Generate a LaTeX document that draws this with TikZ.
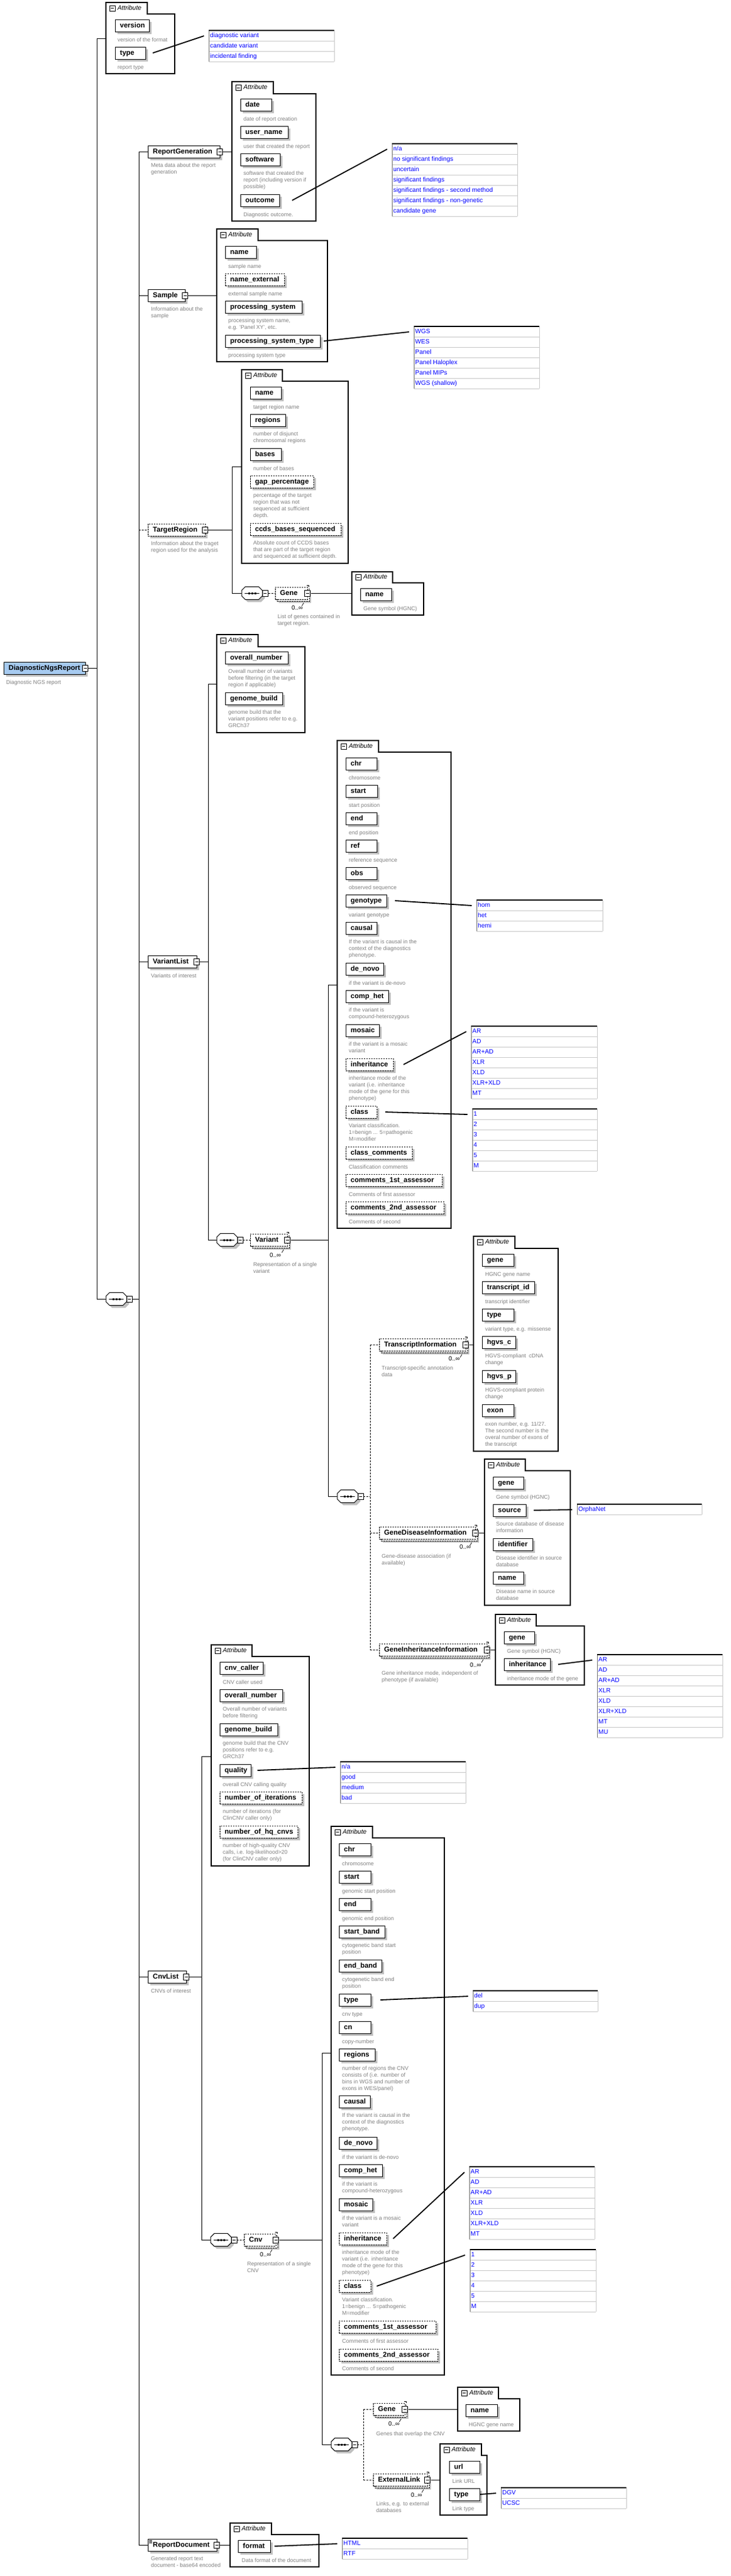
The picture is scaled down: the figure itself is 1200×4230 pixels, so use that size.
\documentclass[tikz,border=0pt]{standalone}
\usepackage{fontspec}
\setmainfont{Liberation Sans}
\definecolor{shadowgray}{RGB}{192,192,192}
\definecolor{descgray}{RGB}{128,128,128}
\definecolor{enumblue}{RGB}{0,0,255}
\definecolor{sepgray}{RGB}{200,200,200}
\definecolor{leftgray}{RGB}{110,110,110}
\definecolor{rootblue}{RGB}{166,202,240}
\pgfdeclarelayer{bg}
\pgfsetlayers{bg,main}
\tikzset{
 con/.style={line width=1pt, black},
 dcon/.style={line width=1pt, black, dash pattern=on 3pt off 2pt},
 elbox/.style={draw=black, line width=1pt, fill=white, minimum height=20pt, inner sep=0pt, outer sep=0pt},
 optel/.style={dash pattern=on 2.5pt off 1.5pt},
 eltxt/.style={font=\fontsize{11.5}{13}\selectfont\bfseries, inner sep=0pt, text height=8.5pt, text depth=2.5pt},
 shd/.style={fill=shadowgray},
 grp/.style={draw=black, line width=1.2pt},
 grptxt/.style={font=\fontsize{10.5}{12}\selectfont\itshape, inner sep=0pt, text height=7.5pt, text depth=2pt},
 icn/.style={draw=black, line width=0.8pt, fill=white},
 dsc/.style={font=\fontsize{9}{11}\selectfont, text=descgray, align=left, inner sep=0pt, execute at begin node=\strut},
 enm/.style={font=\fontsize{10.3}{12}\selectfont, text=enumblue, inner sep=0pt, text height=7.5pt, text depth=2pt},
 mult/.style={font=\fontsize{10}{12}\selectfont, inner sep=0pt},
 econ/.style={line width=1.8pt, black},
 sepc/.style={draw=sepgray, line width=1pt},
 leftc/.style={draw=leftgray, line width=1pt}
}
\newcommand{\IcnAt}[1]{\draw[icn] ([shift={(-4.5,-5)}]#1) rectangle ([shift={(4.5,5)}]#1); \draw[line width=0.8pt] ([xshift=-2.5pt]#1) -- ([xshift=2.5pt]#1);}
\newcommand{\El}[6][]{%
 \fill[shd] ({#3+4},{#4+4}) rectangle ({#5+4},{#4+24});
 \node[elbox,#1,minimum width={(#5-#3)*1pt},anchor=north west] (#2) at (#3,#4) {};
 \node[eltxt,anchor=west] at ([xshift=8pt]#2.west) {#6};}
\newcommand{\Mul}[5]{%
 \fill[shd] ({#2+6},{#3+6}) rectangle ({#4+6},{#3+26});
 \draw[fill=white, line width=1pt, dash pattern=on 2.5pt off 1.5pt] ({#2+3},{#3+3}) rectangle ({#4+3},{#3+23});
 \node[elbox,optel,minimum width={(#4-#2)*1pt},anchor=north west] (#1) at (#2,#3) {};
 \node[eltxt,anchor=west] at ([xshift=8pt]#1.west) {#5};
 \draw[line width=0.7pt] ({#4-1},{#3-3}) -- ({#4+2},{#3-3}) -- ({#4+2},{#3});
 \draw[line width=0.7pt] ({#4-6},{#3+26}) -- ({#4-9},{#3+31});
 \IcnAt{#1.east}}
\newcommand{\Seq}[3]{%
 \fill[shd] ({#2+10},{#3-6.5}) -- ({#2+32},{#3-6.5}) -- ({#2+38},{#3-0.5}) -- ({#2+38},{#3+8.5}) -- ({#2+32},{#3+14.5}) -- ({#2+10},{#3+14.5}) -- ({#2+4},{#3+8.5}) -- ({#2+4},{#3-0.5}) -- cycle;
 \node[inner sep=0pt, outer sep=0pt, minimum width=34pt, minimum height=21pt, anchor=west] (#1) at (#2,#3) {};
 \draw[fill=white, line width=1pt] ({#2+6},{#3-10.5}) -- ({#2+28},{#3-10.5}) -- ({#2+34},{#3-4.5}) -- ({#2+34},{#3+4.5}) -- ({#2+28},{#3+10.5}) -- ({#2+6},{#3+10.5}) -- ({#2},{#3+4.5}) -- ({#2},{#3-4.5}) -- cycle;
 \draw[line width=1pt] ({#2+5},{#3}) -- ({#2+29},{#3});
 \foreach \dx in {-5,0,5} \fill ({#2+17+\dx-1.5},{#3-1.5}) rectangle ({#2+17+\dx+1.5},{#3+1.5});
 \draw[icn] ({#2+34},{#3-5}) rectangle ({#2+43},{#3+5}); \draw[line width=0.8pt] ({#2+36},{#3}) -- ({#2+41},{#3});}
\newcommand{\Grp}[8]{%
 \draw[grp] (#2,#3) -- (#4,#3) -- (#4,#5) -- (#6,#5) -- (#6,#7) -- (#2,#7) -- cycle;
 \draw[icn] ({#2+6},{(#3+#5)/2-4.5}) rectangle ({#2+15},{(#3+#5)/2+4.5});
 \draw[line width=0.8pt] ({#2+8},{(#3+#5)/2}) -- ({#2+13},{(#3+#5)/2});
 \node[grptxt, anchor=west] at ({#2+19},{(#3+#5)/2}) {Attribute};
 \coordinate (#1) at (#2,#8);}
\newcommand{\Enm}[6]{%
 \fill[white] (#2,#3) rectangle (#4,{#3+17*#5});
 \foreach \eit [count=\ek] in {#6} {
   \draw[sepc] (#2,{#3+17*\ek}) -- (#4,{#3+17*\ek});
   \node[enm, anchor=west] at ({#2+2},{#3+17*\ek-8.5}) {\eit};}
 \draw[sepc] (#4,#3) -- (#4,{#3+17*#5});
 \draw[leftc] (#2,#3) -- (#2,{#3+17*#5});
 \draw[line width=1.6pt] ({#2-0.5},#3) -- (#4,#3);
 \coordinate (#1) at ({#2-8},{#3+9});}
\newcommand{\Dsc}[3]{\node[dsc, anchor=north west] at (#1,{#2-4.7}) {#3};}
\begin{document}
\begin{tikzpicture}[x=1pt,y=-1pt]
\useasboundingbox (0,0) rectangle (1200,4230);
\coordinate (bA) at (159,0);
\coordinate (bB) at (228,0);
\coordinate (bC) at (381,0);
\coordinate (bD) at (342,0);
\coordinate (bE) at (539,0);
\coordinate (bF) at (608,0);
\coordinate (bG) at (331,0);
\coordinate (bH) at (529,0);
\coordinate (bI) at (597,0);
% ---------- root
\El[fill=rootblue]{root}{6}{1087}{140}{DiagnosticNgsReport}
\IcnAt{root.east}
\Dsc{10}{1120}{Diagnostic NGS report}
% ---------- root attributes
\Grp{G0}{174}{4}{242}{23}{287}{121}{63}
\El{version}{189}{32}{245}{version}
\Dsc{193}{65}{version of the format}
\El{rtype}{189}{77}{239}{type}
\Dsc{193}{110}{report type}
\Enm{E0}{343}{50}{549}{3}{diagnostic variant,candidate variant,incidental finding}
\Seq{S0}{174}{2133}
% ---------- ReportGeneration
\El{RG}{243}{239}{361}{ReportGeneration}
\IcnAt{RG.east}
\Dsc{248}{272}{Meta data about the report\\generation}
\Grp{G1}{381}{134}{449}{154}{519}{363}{249}
\El{rgdate}{395}{162}{446}{date}
\Dsc{400}{195}{date of report creation}
\El{rguser}{395}{207}{473}{user\_name}
\Dsc{400}{240}{user that created the report}
\El{rgsoft}{395}{252}{460}{software}
\Dsc{400}{285}{software that created the\\report (including version if\\possible)}
\El{rgout}{395}{319}{459}{outcome}
\Dsc{400}{352}{Diagnostic outcome.}
\Enm{E1}{644}{236}{850}{7}{n/a,no significant findings,uncertain,significant findings,significant findings - second method,significant findings - non-genetic,candidate gene}
% ---------- Sample
\El{SA}{243}{475}{304}{Sample}
\IcnAt{SA.east}
\Dsc{248}{508}{Information about the\\sample}
\Grp{G2}{356}{376}{424}{395}{538}{594}{485}
\El{saname}{370}{404}{421}{name}
\Dsc{375}{437}{sample name}
\El[optel]{saext}{370}{449}{467}{name\_external}
\Dsc{375}{482}{external sample name}
\El{saps}{370}{494}{496}{processing\_system}
\Dsc{375}{527}{processing system name,\\e.g. 'Panel XY', etc.}
\El{sapst}{370}{550}{526}{processing\_system\_type}
\Dsc{375}{583}{processing system type}
\Enm{E2}{680}{536}{886}{6}{WGS,WES,Panel,Panel Haloplex,Panel MIPs,WGS (shallow)}
% ---------- TargetRegion
\El[optel]{TR}{243}{860}{337}{TargetRegion}
\IcnAt{TR.east}
\Dsc{248}{893}{Information about the traget\\region used for the analysis}
\Grp{G3}{397}{607}{464}{626}{572}{925}{766}
\El{trname}{411}{635}{462}{name}
\Dsc{416}{668}{target region name}
\El{trreg}{411}{680}{469}{regions}
\Dsc{416}{713}{number of disjunct\\chromosomal regions}
\El{trbases}{411}{736}{462}{bases}
\Dsc{416}{769}{number of bases}
\El[optel]{trgap}{411}{781}{515}{gap\_percentage}
\Dsc{416}{814}{percentage of the target\\region that was not\\sequenced at sufficient\\depth.}
\El[optel]{trccds}{411}{859}{560}{ccds\_bases\_sequenced}
\Dsc{416}{892}{Absolute count of CCDS bases\\that are part of the target region\\and sequenced at sufficient depth.}
\Seq{S1}{397}{974}
\Mul{TRgene}{452}{964}{505}{Gene}
\node[mult,anchor=west] (mTRgene) at (479,998) {0..∞};
\Dsc{456}{1013}{List of genes contained in\\target region.}
\Grp{G4}{578}{939}{645}{957}{696}{1010}{974}
\El{trgname}{592}{966}{643}{name}
\Dsc{597}{999}{Gene symbol (HGNC)}
% ---------- VariantList
\El{VL}{243}{1569}{323}{VariantList}
\IcnAt{VL.east}
\Dsc{248}{1602}{Variants of interest}
\Grp{G5}{356}{1042}{424}{1062}{501}{1203}{1123}
\El{vlon}{370}{1070}{473}{overall\_number}
\Dsc{375}{1103}{Overall number of variants\\before filtering (in the target\\region if applicable)}
\El{vlgb}{370}{1137}{464}{genome\_build}
\Dsc{375}{1170}{genome build that the\\variant positions refer to e.g.\\GRCh37}
\Seq{S2}{356}{2036}
\Mul{VAR}{411}{2026}{472}{Variant}
\node[mult,anchor=west] (mVAR) at (443,2061) {0..∞};
\Dsc{416}{2077}{Representation of a single\\variant}
\Grp{G6}{554}{1216}{622}{1235}{741}{2017}{1617}
\El{vchr}{568}{1244}{619}{chr} \Dsc{573}{1277}{chromosome}
\El{vstart}{568}{1289}{620}{start} \Dsc{573}{1322}{start position}
\El{vend}{568}{1334}{619}{end} \Dsc{573}{1367}{end position}
\El{vref}{568}{1379}{619}{ref} \Dsc{573}{1412}{reference sequence}
\El{vobs}{568}{1424}{619}{obs} \Dsc{573}{1457}{observed sequence}
\El{vgt}{568}{1469}{635}{genotype} \Dsc{573}{1502}{variant genotype}
\Enm{E3}{783}{1478}{990}{3}{hom,het,hemi}
\El{vcausal}{568}{1514}{619}{causal} \Dsc{573}{1547}{If the variant is causal in the\\context of the diagnostics\\phenotype.}
\El{vdn}{568}{1581}{630}{de\_novo} \Dsc{573}{1614}{if the variant is de-novo}
\El{vch}{568}{1626}{638}{comp\_het} \Dsc{573}{1659}{if the variant is\\compound-heterozygous}
\El{vmos}{568}{1682}{623}{mosaic} \Dsc{573}{1715}{if the variant is a mosaic\\variant}
\El[optel]{vinh}{568}{1738}{646}{inheritance} \Dsc{573}{1771}{inheritance mode of the\\variant (i.e. inheritance\\mode of the gene for this\\phenotype)}
\Enm{E4}{774}{1685}{981}{7}{AR,AD,AR+AD,XLR,XLD,XLR+XLD,MT}
\El[optel]{vclass}{568}{1816}{619}{class} \Dsc{573}{1849}{Variant classification.\\1=benign ... 5=pathogenic\\M=modifier}
\Enm{E5}{776}{1821}{981}{6}{1,2,3,4,5,M}
\El[optel]{vcc}{568}{1883}{677}{class\_comments} \Dsc{573}{1916}{Classification comments}
\El[optel]{vc1}{568}{1928}{726}{comments\_1st\_assessor} \Dsc{573}{1961}{Comments of first assessor}
\El[optel]{vc2}{568}{1973}{729}{comments\_2nd\_assessor} \Dsc{573}{2006}{Comments of second}
% ---------- Variant children
\Seq{S3}{554}{2457}
\Mul{TI}{623}{2198}{765}{TranscriptInformation}
\node[mult,anchor=west] (mTI) at (737,2231) {0..∞};
\Dsc{627}{2247}{Transcript-specific annotation\\data}
\Grp{G7}{778}{2030}{846}{2050}{917}{2383}{2208}
\El{tigene}{792}{2059}{844}{gene} \Dsc{797}{2092}{HGNC gene name}
\El{titid}{792}{2104}{878}{transcript\_id} \Dsc{797}{2137}{transcript identifier}
\El{titype}{792}{2149}{844}{type} \Dsc{797}{2182}{variant type, e.g. missense}
\El{tihc}{792}{2194}{847}{hgvs\_c} \Dsc{797}{2227}{HGVS-compliant\ \ cDNA\\change}
\El{tihp}{792}{2250}{847}{hgvs\_p} \Dsc{797}{2283}{HGVS-compliant protein\\change}
\El{tiexon}{792}{2306}{844}{exon} \Dsc{797}{2339}{exon number, e.g. 11/27.\\The second number is the\\overal number of exons of\\the transcript}
\Mul{GDI}{623}{2507}{781}{GeneDiseaseInformation}
\node[mult,anchor=west] (mGDI) at (755,2540) {0..∞};
\Dsc{627}{2556}{Gene-disease association (if\\available)}
\Grp{G8}{796}{2396}{863}{2415}{937}{2636}{2517}
\El{gdgene}{810}{2425}{860}{gene} \Dsc{815}{2458}{Gene symbol (HGNC)}
\El{gdsource}{810}{2470}{864}{source} \Dsc{815}{2503}{Source database of disease\\information}
\Enm{E6}{948}{2470}{1153}{1}{OrphaNet}
\El{gdid}{810}{2526}{875}{identifier} \Dsc{815}{2559}{Disease identifier in source\\database}
\El{gdname}{810}{2581}{860}{name} \Dsc{815}{2614}{Disease name in source\\database}
\Mul{GII}{623}{2699}{800}{GeneInheritanceInformation}
\node[mult,anchor=west] (mGII) at (772,2734) {0..∞};
\Dsc{627}{2748}{Gene inheritance mode, independent of\\phenotype (if available)}
\Grp{G9}{814}{2651}{881}{2670}{960}{2767}{2709}
\El{gigene}{828}{2679}{878}{gene} \Dsc{833}{2711}{Gene symbol (HGNC)}
\El{giinh}{828}{2723}{904}{inheritance} \Dsc{833}{2756}{inheritance mode of the gene}
\Enm{E7}{981}{2717}{1187}{8}{AR,AD,AR+AD,XLR,XLD,XLR+XLD,MT,MU}
% ---------- CnvList
\El{CL}{243}{3236}{306}{CnvList}
\IcnAt{CL.east}
\Dsc{248}{3269}{CNVs of interest}
\Grp{G10}{347}{2701}{414}{2720}{508}{3064}{2884}
\El{clcaller}{361}{2729}{432}{cnv\_caller} \Dsc{366}{2762}{CNV caller used}
\El{clon}{361}{2774}{464}{overall\_number} \Dsc{366}{2807}{Overall number of variants\\before filtering}
\El{clgb}{361}{2830}{456}{genome\_build} \Dsc{366}{2863}{genome build that the CNV\\positions refer to e.g.\\GRCh37}
\El{clq}{361}{2897}{412}{quality} \Dsc{366}{2930}{overall CNV calling quality}
\Enm{E8}{559}{2893}{765}{4}{n/a,good,medium,bad}
\El[optel]{clnit}{361}{2942}{496}{number\_of\_iterations} \Dsc{366}{2975}{number of iterations (for\\ClinCNV caller only)}
\El[optel]{clhq}{361}{2998}{489}{number\_of\_hq\_cnvs} \Dsc{366}{3031}{number of high-quality CNV\\calls, i.e. log-likelihood>20\\(for ClinCNV caller only)}
\Seq{S4}{346}{3678}
\Mul{CNV}{401}{3668}{453}{Cnv}
\node[mult,anchor=west] (mCNV) at (427,3702) {0..∞};
\Dsc{406}{3718}{Representation of a single\\CNV}
\Grp{G11}{544}{2999}{612}{3018}{730}{3900}{3371}
\El{cvchr}{557}{3027}{609}{chr} \Dsc{562}{3060}{chromosome}
\El{cvstart}{557}{3072}{609}{start} \Dsc{562}{3105}{genomic start position}
\El{cvend}{557}{3117}{609}{end} \Dsc{562}{3150}{genomic end position}
\El{cvsb}{557}{3162}{632}{start\_band} \Dsc{562}{3195}{cytogenetic band start\\position}
\El{cveb}{557}{3218}{627}{end\_band} \Dsc{562}{3251}{cytogenetic band end\\position}
\El{cvtype}{557}{3274}{609}{type} \Dsc{562}{3307}{cnv type}
\Enm{E9}{777}{3269}{982}{2}{del,dup}
\El{cvcn}{557}{3319}{609}{cn} \Dsc{562}{3352}{copy-number}
\El{cvreg}{557}{3364}{616}{regions} \Dsc{562}{3397}{number of regions the CNV\\consists of (i.e. number of\\bins in WGS and number of\\exons in WES/panel)}
\El{cvcausal}{557}{3441}{608}{causal} \Dsc{562}{3474}{If the variant is causal in the\\context of the diagnostics\\phenotype.}
\El{cvdn}{557}{3509}{619}{de\_novo} \Dsc{562}{3542}{if the variant is de-novo}
\El{cvch}{557}{3554}{628}{comp\_het} \Dsc{562}{3587}{if the variant is\\compound-heterozygous}
\El{cvmos}{557}{3610}{612}{mosaic} \Dsc{562}{3643}{if the variant is a mosaic\\variant}
\El[optel]{cvinh}{557}{3666}{635}{inheritance} \Dsc{562}{3699}{inheritance mode of the\\variant (i.e. inheritance\\mode of the gene for this\\phenotype)}
\Enm{E10}{771}{3558}{977}{7}{AR,AD,AR+AD,XLR,XLD,XLR+XLD,MT}
\El[optel]{cvclass}{557}{3744}{609}{class} \Dsc{562}{3777}{Variant classification.\\1=benign ... 5=pathogenic\\M=modifier}
\Enm{E11}{772}{3694}{979}{6}{1,2,3,4,5,M}
\El[optel]{cvc1}{557}{3811}{716}{comments\_1st\_assessor} \Dsc{562}{3844}{Comments of first assessor}
\El[optel]{cvc2}{557}{3857}{719}{comments\_2nd\_assessor} \Dsc{562}{3889}{Comments of second}
\Seq{S5}{544}{4014}
\Mul{CG}{613}{3946}{665}{Gene}
\node[mult,anchor=west] (mCG) at (638,3980) {0..∞};
\Dsc{618}{3996}{Genes that overlap the CNV}
\Grp{G12}{752}{3920}{819}{3939}{854}{3992}{3956}
\El{cgname}{765}{3948}{817}{name} \Dsc{770}{3981}{HGNC gene name}
\Mul{EL}{613}{4062}{702}{ExternalLink}
\node[mult,anchor=west] (mEL) at (675,4097) {0..∞};
\Dsc{618}{4112}{Links, e.g. to external\\databases}
\Grp{G13}{723}{4013}{791}{4032}{800}{4130}{4072}
\El{elurl}{738}{4041}{788}{url} \Dsc{743}{4074}{Link URL}
\El{eltype}{738}{4086}{788}{type} \Dsc{743}{4119}{Link type}
\Enm{E12}{823}{4085}{1029}{2}{DGV,UCSC}
% ---------- ReportDocument
\El{RD}{243}{4169}{356}{ReportDocument}
\IcnAt{RD.east}
\draw[line width=0.6pt] (245,4171) -- (250,4171) (245,4173) -- (250,4173) (245,4175) -- (250,4175);
\Dsc{248}{4202}{Generated report text\\document - base64 encoded}
\Grp{G14}{378}{4143}{446}{4162}{524}{4215}{4179}
\El{rdformat}{391}{4171}{444}{format} \Dsc{397}{4204}{Data format of the document}
\Enm{E13}{562}{4168}{768}{2}{HTML,RTF}
% ---------- enumeration connectors
\draw[econ] ([xshift=12pt]rtype.east) -- (E0);
\draw[econ] ([xshift=21pt]rgout.east) -- (E1);
\draw[econ] ([xshift=6pt]sapst.east) -- (E2);
\draw[econ] ([xshift=14pt]vgt.east) -- (E3);
\draw[econ] ([xshift=17pt]vinh.east) -- (E4);
\draw[econ] ([xshift=14pt]vclass.east) -- (E5);
\draw[econ] ([xshift=13pt]gdsource.east) -- (E6);
\draw[econ] ([xshift=13pt]giinh.east) -- (E7);
\draw[econ] ([xshift=11pt]clq.east) -- (E8);
\draw[econ] ([xshift=16pt]cvtype.east) -- (E9);
\draw[econ] ([xshift=11pt]cvinh.east) -- (E10);
\draw[econ] ([xshift=10pt]cvclass.east) -- (E11);
\draw[econ] (eltype.east) -- (E12);
\draw[econ] ([xshift=7pt]rdformat.east) -- (E13);
% ---------- tree connectors
\begin{pgfonlayer}{bg}
\draw[con] (root.east) -- (bA |- root.east);
\draw[con] (bA |- G0) -- (bA |- S0.west);
\draw[con] (bA |- G0) -- (G0);
\draw[con] (bA |- S0.west) -- (S0.west);
\draw[con] (S0.east) -- (bB |- S0.east);
\draw[con] (bB |- RG.west) -- (bB |- RD.west);
\draw[con] (bB |- RG.west) -- (RG.west);
\draw[con] (bB |- SA.west) -- (SA.west);
\draw[dcon] (bB |- TR.west) -- (TR.west);
\draw[con] (bB |- VL.west) -- (VL.west);
\draw[con] (bB |- CL.west) -- (CL.west);
\draw[con] (bB |- RD.west) -- (RD.west);
\draw[con] (RG.east) -- (G1);
\draw[con] (SA.east) -- (G2);
\draw[con] (TR.east) -- (bC |- TR.east);
\draw[con] (bC |- G3) -- (bC |- S1.west);
\draw[con] (bC |- G3) -- (G3);
\draw[con] (bC |- S1.west) -- (S1.west);
\draw[dcon] (S1.east) -- (TRgene.west);
\draw[con] (TRgene.east) -- (G4);
\draw[con] (VL.east) -- (bD |- VL.east);
\draw[con] (bD |- G5) -- (bD |- S2.west);
\draw[con] (bD |- G5) -- (G5);
\draw[con] (bD |- S2.west) -- (S2.west);
\draw[dcon] ([xshift=9pt]S2.east) -- (VAR.west);
\draw[con] (VAR.east) -- (bE |- VAR.east);
\draw[con] (bE |- G6) -- (bE |- S3.west);
\draw[con] (bE |- G6) -- (G6);
\draw[con] (bE |- S3.west) -- (S3.west);
\draw[dcon] ([xshift=9pt]S3.east) -- (bF |- S3.east);
\draw[dcon] (bF |- TI.west) -- (bF |- GII.west);
\draw[dcon] (bF |- TI.west) -- (TI.west);
\draw[dcon] (bF |- GDI.west) -- (GDI.west);
\draw[dcon] (bF |- GII.west) -- (GII.west);
\draw[con] (TI.east) -- (G7);
\draw[con] (GDI.east) -- (G8);
\draw[con] (GII.east) -- (G9);
\draw[con] (CL.east) -- (bG |- CL.east);
\draw[con] (bG |- G10) -- (bG |- S4.west);
\draw[con] (bG |- G10) -- (G10);
\draw[con] (bG |- S4.west) -- (S4.west);
\draw[dcon] ([xshift=9pt]S4.east) -- (CNV.west);
\draw[con] (CNV.east) -- (bH |- CNV.east);
\draw[con] (bH |- G11) -- (bH |- S5.west);
\draw[con] (bH |- G11) -- (G11);
\draw[con] (bH |- S5.west) -- (S5.west);
\draw[dcon] ([xshift=9pt]S5.east) -- (bI |- S5.east);
\draw[dcon] (bI |- CG.west) -- (bI |- EL.west);
\draw[dcon] (bI |- CG.west) -- (CG.west);
\draw[dcon] (bI |- EL.west) -- (EL.west);
\draw[con] (CG.east) -- (G12);
\draw[con] (EL.east) -- (G13);
\draw[con] (RD.east) -- (G14);
\end{pgfonlayer}
\end{tikzpicture}
\end{document}
